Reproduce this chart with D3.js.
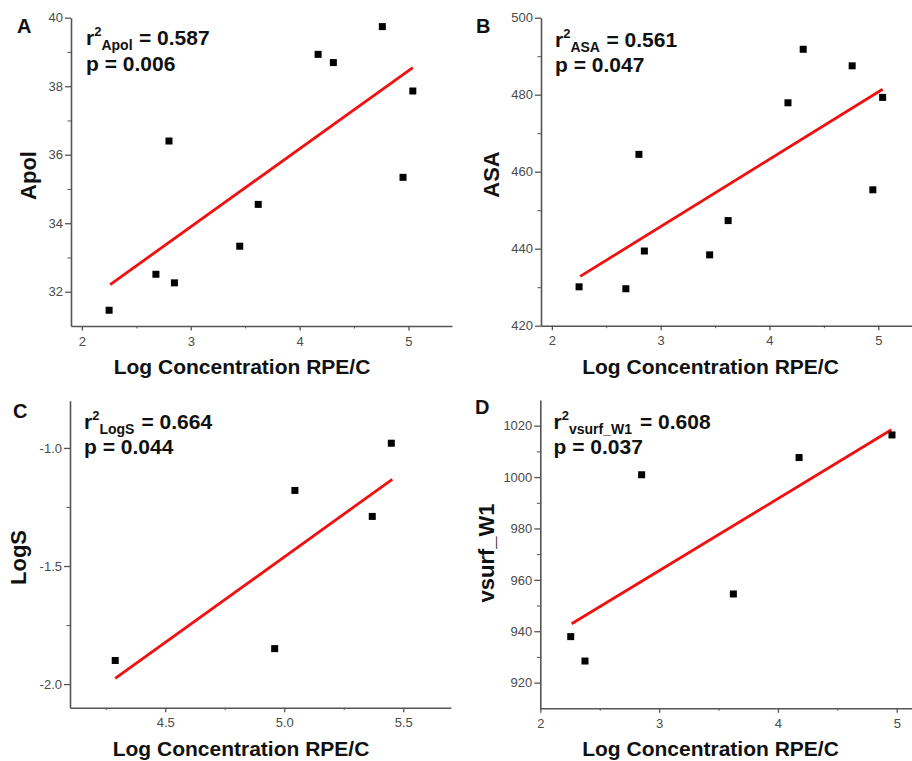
<!DOCTYPE html>
<html>
<head>
<meta charset="utf-8">
<script src="https://cdn.jsdelivr.net/npm/d3@7"></script>
<style>
  html, body { margin: 0; padding: 0; background: #fff; }
  svg { display: block; font-family: "Liberation Sans", Arial, sans-serif; }
  .tick text { fill: #4a4a4a; font-size: 13px; }
  .domain, .tick line { stroke: #555; }
</style>
</head>
<body>
<svg id="chart" width="912" height="761"></svg>
<script>
// Log concentration (RPE/C) of the compounds
const concAB = [2.25, 2.68, 2.80, 2.85, 3.45, 3.62, 4.17, 4.31, 4.76, 4.95, 5.04];
const apolValues = [31.46, 32.51, 36.40, 32.26, 33.33, 34.55, 38.93, 38.69, 39.74, 35.34, 37.86];
const asaValues = [430.1, 429.6, 464.5, 439.4, 438.4, 447.3, 477.9, 491.8, 487.5, 455.3, 479.3];

const concLogS = [4.29, 4.96, 5.045, 5.37, 5.45];
const logSValues = [-1.90, -1.85, -1.18, -1.29, -0.98];

const concVsurf = [2.256, 2.376, 2.853, 3.625, 4.178, 4.96];
const vsurfValues = [937.9, 928.4, 1000.9, 954.5, 1007.6, 1016.4];

// Regression lines: [x start, x end] and [y start, y end]
const fitApolX = [2.26, 5.04], fitApolY = [32.21, 38.54];
const fitAsaX = [2.26, 5.04], fitAsaY = [432.8, 481.4];
const fitLogSX = [4.29, 5.454], fitLogSY = [-1.976, -1.133];
const fitVsurfX = [2.264, 4.955], fitVsurfY = [942.9, 1018.4];

// Tick values
const xTicksAB = [2, 3, 4, 5], xMinorAB = [2.5, 3.5, 4.5];
const yTicksApol = [32, 34, 36, 38, 40], yMinorApol = [33, 35, 37, 39];
const yTicksAsa = [420, 440, 460, 480, 500], yMinorAsa = [430, 450, 470, 490];
const xTicksLogS = [4.5, 5.0, 5.5], xMinorLogS = [4.25, 4.75, 5.25];
const yTicksLogS = [-2.0, -1.5, -1.0], yMinorLogS = [-1.75, -1.25];
const xTicksVsurf = [2, 3, 4, 5], xMinorVsurf = [2.5, 3.5, 4.5];
const yTicksVsurf = [920, 940, 960, 980, 1000, 1020], yMinorVsurf = [930, 950, 970, 990, 1010];

// Statistics printed in each panel
const panelLetters = ["A", "B", "C", "D"];
const yLabels = ["Apol", "ASA", "LogS", "vsurf_W1"];
const r2Values = ["0.587", "0.561", "0.664", "0.608"];
const pValues = ["0.006", "0.047", "0.044", "0.037"];
const xLabel = "Log Concentration RPE/C";

const svg = d3.select("#chart");
svg.append("rect").attr("width", 912).attr("height", 761).attr("fill", "#fff");

const fmtInt = d => String(d);
const fmtOne = d => d.toFixed(1).replace("\u2212", "-");

const panels = [
  { letter: 0, xs: concAB, ys: apolValues, fx: fitApolX, fy: fitApolY,
    xDom: [1.9, 5.4], yDom: [31, 40], xR: [71, 452], yR: [326, 17.7],
    xT: xTicksAB, xM: xMinorAB, yT: yTicksApol, yM: yMinorApol, xf: fmtInt, yf: fmtInt,
    letterPos: [17, 33], ann: { x: 86, y: 45, eqX: 139 },
    yLab: { x: 36, y: 175.5 }, xLab: { x: 242, y: 374 } },
  { letter: 1, xs: concAB, ys: asaValues, fx: fitAsaX, fy: fitAsaY,
    xDom: [1.9, 5.4], yDom: [420, 500], xR: [541, 921.8], yR: [325.7, 17.7],
    xT: xTicksAB, xM: xMinorAB, yT: yTicksAsa, yM: yMinorAsa, xf: fmtInt, yf: fmtInt,
    letterPos: [476, 33], ann: { x: 555, y: 46.5, eqX: 606.5 },
    yLab: { x: 499, y: 174.5 }, xLab: { x: 710.5, y: 374 } },
  { letter: 2, xs: concLogS, ys: logSValues, fx: fitLogSX, fy: fitLogSY,
    xDom: [4.1, 5.7], yDom: [-2.1, -0.8], xR: [70, 450.8], yR: [707.7, 400.7],
    xT: xTicksLogS, xM: xMinorLogS, yT: yTicksLogS, yM: yMinorLogS, xf: fmtOne, yf: fmtOne,
    letterPos: [13, 418], ann: { x: 84, y: 428.5, eqX: 141.5 },
    yLab: { x: 26, y: 557.5 }, xLab: { x: 241, y: 756 } },
  { letter: 3, xs: concVsurf, ys: vsurfValues, fx: fitVsurfX, fy: fitVsurfY,
    xDom: [2, 5.2], yDom: [910, 1030], xR: [540.3, 920.5], yR: [708.3, 400],
    xT: xTicksVsurf, xM: xMinorVsurf, yT: yTicksVsurf, yM: yMinorVsurf, xf: fmtInt, yf: fmtInt,
    letterPos: [475, 413.5], ann: { x: 553.5, y: 428.5, eqX: 640 },
    yLab: { x: 494, y: 553 }, xLab: { x: 710.5, y: 756 } }
];

panels.forEach(p => {
  const g = svg.append("g");
  const x = d3.scaleLinear().domain(p.xDom).range(p.xR);
  const y = d3.scaleLinear().domain(p.yDom).range(p.yR);
  const x0 = p.xR[0], yb = p.yR[0];

  // minor ticks
  g.append("g").attr("transform", `translate(0,${yb})`)
    .call(d3.axisBottom(x).tickValues(p.xM).tickSize(2.5).tickFormat(""))
    .call(a => a.select(".domain").remove());
  g.append("g").attr("transform", `translate(${x0},0)`)
    .call(d3.axisLeft(y).tickValues(p.yM).tickSize(3.5).tickFormat(""))
    .call(a => a.select(".domain").remove());

  // major axes
  const xa = g.append("g").attr("transform", `translate(0,${yb})`)
    .call(d3.axisBottom(x).tickValues(p.xT).tickSize(4.5).tickSizeOuter(0).tickPadding(6).tickFormat(p.xf));
  const ya = g.append("g").attr("transform", `translate(${x0},0)`)
    .call(d3.axisLeft(y).tickValues(p.yT).tickSize(6).tickSizeOuter(0).tickPadding(2).tickFormat(p.yf));
  [xa, ya].forEach(a => {
    a.attr("font-family", null).attr("font-size", null);
    a.select(".domain").attr("stroke-width", 1.6);
    a.selectAll(".tick line").attr("stroke-width", 1.3);
  });
  g.selectAll(".tick line").attr("stroke", "#555");

  // regression line
  g.append("line")
    .attr("x1", x(p.fx[0])).attr("y1", y(p.fy[0]))
    .attr("x2", x(p.fx[1])).attr("y2", y(p.fy[1]))
    .attr("stroke", "#f01010").attr("stroke-width", 2.8);

  // data points
  const s = 7;
  g.selectAll("rect.pt").data(p.xs.map((v, i) => [v, p.ys[i]]))
    .join("rect").attr("class", "pt")
    .attr("x", d => x(d[0]) - s / 2).attr("y", d => y(d[1]) - s / 2)
    .attr("width", s).attr("height", s).attr("fill", "#000");

  // panel letter
  g.append("text").attr("x", p.letterPos[0]).attr("y", p.letterPos[1])
    .attr("font-size", 20).attr("font-weight", "bold").attr("fill", "#111")
    .text(panelLetters[p.letter]);

  // r-squared and p annotations
  const t1 = g.append("text").attr("x", p.ann.x).attr("y", p.ann.y)
    .attr("font-size", 21).attr("font-weight", "bold").attr("fill", "#111");
  t1.append("tspan").text("r");
  t1.append("tspan").attr("font-size", 13).attr("dy", -9).text("2");
  t1.append("tspan").attr("font-size", 14).attr("dy", 14).text(yLabels[p.letter]);
  t1.append("tspan").attr("x", p.ann.eqX).attr("dy", -5).text("= " + r2Values[p.letter]);
  g.append("text").attr("x", p.ann.x).attr("y", p.ann.y + 25.5)
    .attr("font-size", 21).attr("font-weight", "bold").attr("fill", "#111")
    .text("p = " + pValues[p.letter]);

  // axis titles
  g.append("text").attr("transform", `translate(${p.yLab.x},${p.yLab.y}) rotate(-90)`)
    .attr("text-anchor", "middle").attr("font-size", 22).attr("font-weight", "bold")
    .attr("fill", "#111").text(yLabels[p.letter]);
  g.append("text").attr("x", p.xLab.x).attr("y", p.xLab.y)
    .attr("text-anchor", "middle").attr("font-size", 21).attr("font-weight", "bold")
    .attr("fill", "#111").text(xLabel);
});
</script>
</body>
</html>
